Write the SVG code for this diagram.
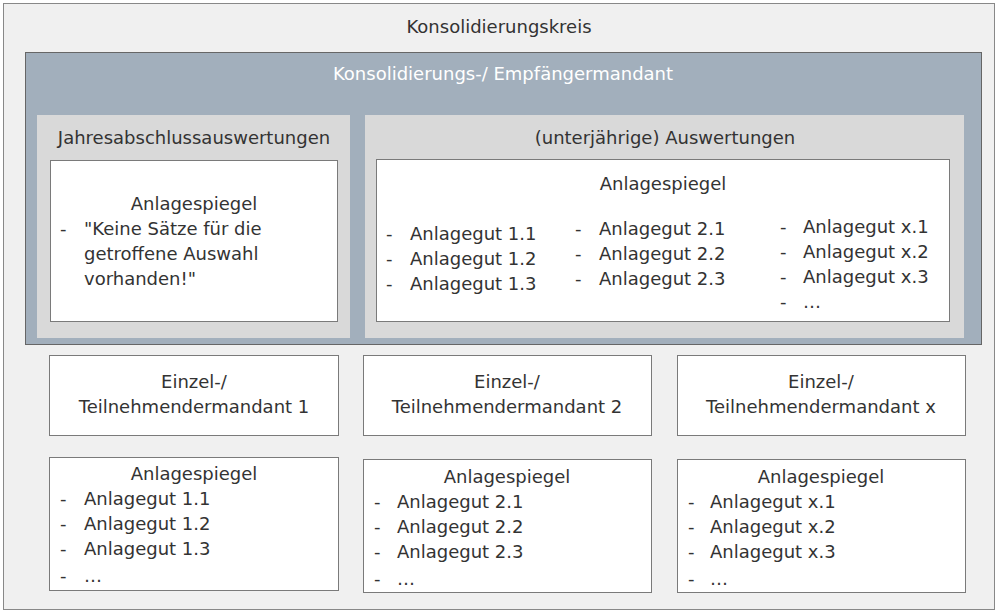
<svg xmlns="http://www.w3.org/2000/svg" width="998" height="614" viewBox="0 0 998 614">
<style>
text{font-family:"DejaVu Sans",sans-serif;font-size:18px;fill:#333}
.c{text-anchor:middle}
.w{fill:#fff}
.box{fill:#fff;stroke:#7a7a7a;stroke-width:1}
.g{fill:#d9d9d9}
</style>
<g id="kreis"><rect x="3.5" y="3.5" width="991" height="606" fill="#f0f0f0" stroke="#888"/>
<text class="c" x="499" y="33">Konsolidierungskreis</text></g>
<g id="empf"><rect x="25.5" y="52.5" width="956" height="292" fill="#a2afbc" stroke="#666"/>
<text class="c w" x="503" y="80">Konsolidierungs-/ Empfängermandant</text></g>
<g id="jahr"><rect x="37" y="115" width="313" height="223" class="g"/>
<text class="c" x="194" y="144">Jahresabschlussauswertungen</text>
<rect x="50.5" y="160.5" width="287" height="161" class="box"/>
<text class="c" x="194" y="210">Anlagespiegel</text>
<text x="60" y="235">-</text><text x="84" y="235">"Keine Sätze für die</text>
<text x="84" y="260">getroffene Auswahl</text><text x="84" y="285">vorhanden!"</text></g>
<g id="unter"><rect x="365" y="115" width="599" height="223" class="g"/>
<text class="c" x="665" y="144">(unterjährige) Auswertungen</text>
<rect x="376.5" y="159.5" width="573" height="162" class="box"/>
<text class="c" x="663" y="190">Anlagespiegel</text>
<g><text x="386" y="240">-</text><text x="410" y="240">Anlagegut 1.1</text>
<text x="386" y="265">-</text><text x="410" y="265">Anlagegut 1.2</text>
<text x="386" y="290">-</text><text x="410" y="290">Anlagegut 1.3</text></g>
<g><text x="575" y="235">-</text><text x="599" y="235">Anlagegut 2.1</text>
<text x="575" y="260">-</text><text x="599" y="260">Anlagegut 2.2</text>
<text x="575" y="285">-</text><text x="599" y="285">Anlagegut 2.3</text></g>
<g><text x="780" y="233">-</text><text x="803" y="233">Anlagegut x.1</text>
<text x="780" y="258">-</text><text x="803" y="258">Anlagegut x.2</text>
<text x="780" y="283">-</text><text x="803" y="283">Anlagegut x.3</text>
<text x="780" y="308">-</text><text x="803" y="308">…</text></g></g>
<g id="m1"><rect x="49.5" y="355.5" width="289" height="80" class="box"/>
<text class="c" x="194" y="388">Einzel-/</text><text class="c" x="194" y="413">Teilnehmendermandant 1</text></g>
<g id="m2"><rect x="363.5" y="355.5" width="288" height="80" class="box"/>
<text class="c" x="507" y="388">Einzel-/</text><text class="c" x="507" y="413">Teilnehmendermandant 2</text></g>
<g id="mx"><rect x="677.5" y="355.5" width="288" height="80" class="box"/>
<text class="c" x="821" y="388">Einzel-/</text><text class="c" x="821" y="413">Teilnehmendermandant x</text></g>
<g id="a1"><rect x="49.5" y="457.5" width="289" height="133" class="box"/>
<text class="c" x="194" y="480">Anlagespiegel</text>
<text x="60" y="505">-</text><text x="84" y="505">Anlagegut 1.1</text>
<text x="60" y="530">-</text><text x="84" y="530">Anlagegut 1.2</text>
<text x="60" y="555">-</text><text x="84" y="555">Anlagegut 1.3</text>
<text x="60" y="582">-</text><text x="84" y="582">…</text></g>
<g id="a2"><rect x="363.5" y="459.5" width="288" height="133" class="box"/>
<text class="c" x="507" y="483">Anlagespiegel</text>
<text x="374" y="508">-</text><text x="397" y="508">Anlagegut 2.1</text>
<text x="374" y="533">-</text><text x="397" y="533">Anlagegut 2.2</text>
<text x="374" y="558">-</text><text x="397" y="558">Anlagegut 2.3</text>
<text x="374" y="585">-</text><text x="397" y="585">…</text></g>
<g id="ax"><rect x="677.5" y="459.5" width="288" height="133" class="box"/>
<text class="c" x="821" y="483">Anlagespiegel</text>
<text x="688" y="508">-</text><text x="710" y="508">Anlagegut x.1</text>
<text x="688" y="533">-</text><text x="710" y="533">Anlagegut x.2</text>
<text x="688" y="558">-</text><text x="710" y="558">Anlagegut x.3</text>
<text x="688" y="585">-</text><text x="710" y="585">…</text></g>
<g id="connectors"/>
</svg>
